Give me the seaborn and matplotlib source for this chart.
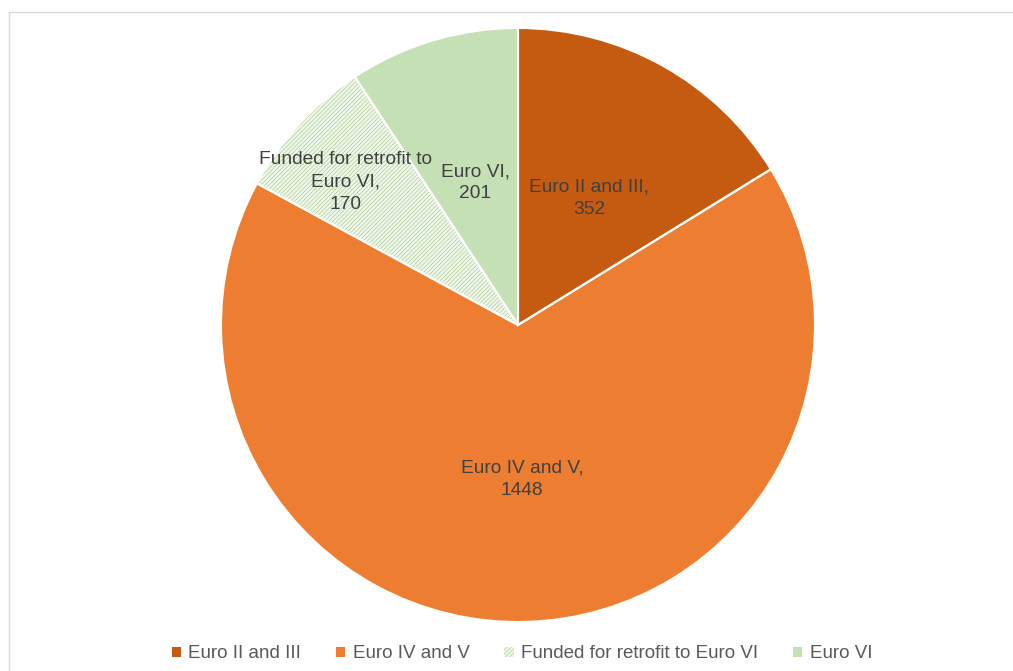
import matplotlib
matplotlib.use("Agg")
import matplotlib.pyplot as plt
import seaborn as sns
from matplotlib.patches import Rectangle
import numpy as np

categories = ["Euro II and III", "Euro IV and V", "Funded for retrofit to Euro VI", "Euro VI"]
values = [352, 1448, 170, 201]
label_texts = ["Euro II and III,\n352", "Euro IV and V,\n1448", "Funded for retrofit to\nEuro VI,\n170", "Euro VI,\n201"]
colors = ["#C55A11", "#ED7D31", "#F1F7EC", "#C5E0B4"]
label_dist = [0.49, 0.52, 0.755, 0.50]
label_angle_shift = [0, 0, 3, 0]

sns.set_theme(style="white")
plt.rcParams["font.family"] = ["Liberation Sans", "DejaVu Sans"]
plt.rcParams["hatch.linewidth"] = 0.5

fig = plt.figure(figsize=(10.13, 6.71), dpi=100)
fig.patch.set_facecolor("white")
# border
fig.add_artist(Rectangle((9/1013, -0.05), 1.2, (671-12)/671 + 0.05, transform=fig.transFigure,
                         fill=False, edgecolor="#D9D9D9", linewidth=1.0))

R = 297
ax = fig.add_axes([(518-R)/1013, (346-R)/671, 2*R/1013, 2*R/671])
wedges, texts = ax.pie(values, colors=colors, startangle=90, counterclock=False,
                       labels=label_texts, labeldistance=0.53,
                       wedgeprops=dict(edgecolor="white", linewidth=0))
# hatch on the funded slice
hw = wedges[2]
hw.set_hatch("////////")
hw.set_edgecolor("#A8CF92")
hw.set_linewidth(0)
# white separators
ax.pie(values, startangle=90, counterclock=False,
       wedgeprops=dict(fill=False, edgecolor="white", linewidth=1.5))

for t, w, d, s in zip(texts, wedges, label_dist, label_angle_shift):
    ang = np.deg2rad((w.theta1 + w.theta2) / 2 + s)
    t.set_position((d*np.cos(ang), d*np.sin(ang)))
    t.set_ha("center"); t.set_va("center")
    t.set_color("#404040"); t.set_fontsize(13.8)
    t.set_multialignment("center")
    t.set_linespacing(1.4)

ax.set_xlim(-1, 1); ax.set_ylim(-1, 1)
ax.set_aspect("equal")

leg = fig.legend(wedges, categories, loc="center", bbox_to_anchor=(522/1013, (671-654)/671),
                 ncol=4, frameon=False, fontsize=13.5, handlelength=0.5, handleheight=0.5,
                 handletextpad=0.4, columnspacing=1.85, labelcolor="#595959")

fig.savefig("out.png", dpi=100, facecolor="white")
